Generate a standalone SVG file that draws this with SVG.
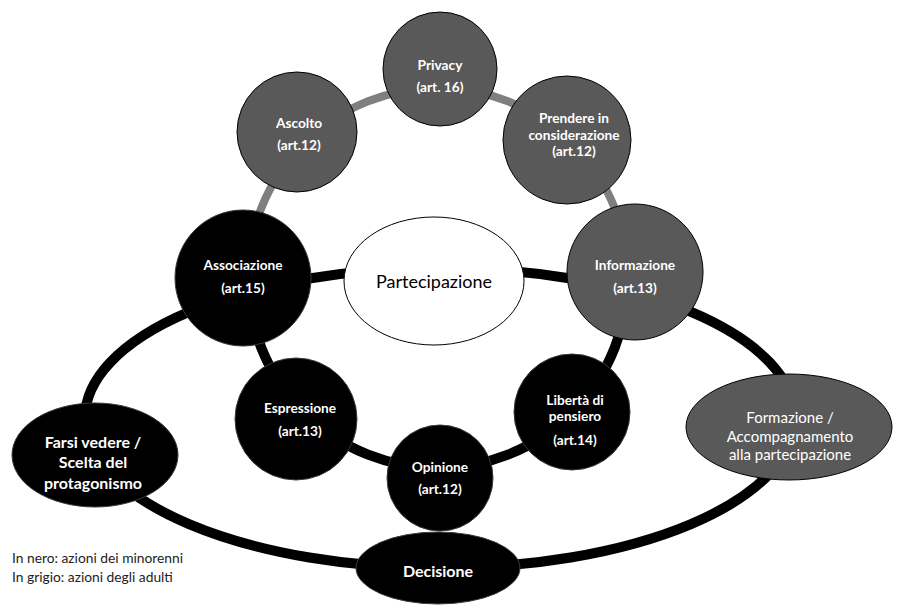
<svg xmlns="http://www.w3.org/2000/svg" width="897" height="605" viewBox="0 0 897 605">
<style>
.g{fill:#595959;stroke:#000;stroke-width:1}
.b{fill:#000;stroke:#3a3a3a;stroke-width:1}
.t{font-family:Lato,"Open Sans","Liberation Sans",sans-serif;font-weight:bold;font-size:13.7px;fill:#fff;text-anchor:middle}
.big{font-size:16px}
.dec{font-size:16px}
.reg{font-family:Lato,"Open Sans","Liberation Sans",sans-serif;font-size:15px;fill:#fff;text-anchor:middle}
.leg{font-family:Lato,"Open Sans","Liberation Sans",sans-serif;font-size:13.8px;fill:#222}
</style>
<rect width="897" height="605" fill="#fff"/>
<g id="connectors" fill="none">
<ellipse cx="440" cy="418" rx="355" ry="150" stroke="#000" stroke-width="10"/>
<path d="M248,278 A190,190 0 0 1 628,278" stroke="#7f7f7f" stroke-width="8"/>
<path d="M628,278 A190,190 0 0 1 248,278" stroke="#000" stroke-width="10"/>
</g>
<g id="privacy"><circle class="g" cx="440" cy="69" r="57"/><text class="t" x="440" y="70">Privacy</text><text class="t" x="440" y="92">(art. 16)</text></g>
<g id="ascolto"><circle class="g" cx="297" cy="132" r="60"/><text class="t" x="299" y="128">Ascolto</text><text class="t" x="299" y="150">(art.12)</text></g>
<g id="prendere"><circle class="g" cx="567" cy="140" r="64"/><text class="t" x="574" y="123">Prendere in</text><text class="t" x="574" y="140">considerazione</text><text class="t" x="574" y="156">(art.12)</text></g>
<g id="informazione"><circle class="g" cx="635" cy="272" r="68"/><text class="t" x="635" y="270">Informazione</text><text class="t" x="635" y="293">(art.13)</text></g>
<g id="associazione"><circle class="b" cx="243" cy="278" r="68"/><text class="t" x="243" y="270">Associazione</text><text class="t" x="243" y="293">(art.15)</text></g>
<g id="partecipazione"><ellipse cx="434" cy="281" rx="90" ry="64" fill="#fff" stroke="#000" stroke-width="1"/><text x="434" y="288" font-family="Lato,'Open Sans','Liberation Sans',sans-serif" font-size="18" fill="#000" text-anchor="middle">Partecipazione</text></g>
<g id="espressione"><circle class="b" cx="296" cy="419" r="61"/><text class="t" x="300" y="413">Espressione</text><text class="t" x="300" y="436">(art.13)</text></g>
<g id="opinione"><circle class="b" cx="440" cy="478" r="53"/><text class="t" x="440" y="472">Opinione</text><text class="t" x="440" y="494">(art.12)</text></g>
<g id="liberta"><circle class="b" cx="572" cy="412" r="58"/><text class="t" x="575" y="405">Libertà di</text><text class="t" x="575" y="421">pensiero</text><text class="t" x="575" y="445">(art.14)</text></g>
<g id="farsi"><ellipse class="b" cx="95" cy="455" rx="83" ry="52"/><text class="t big" x="93" y="448">Farsi vedere /</text><text class="t big" x="93" y="468">Scelta del</text><text class="t big" x="93" y="489">protagonismo</text></g>
<g id="formazione"><ellipse class="g" cx="789" cy="427" rx="103" ry="53"/><text class="reg" x="790" y="423">Formazione /</text><text class="reg" x="790" y="442">Accompagnamento</text><text class="reg" x="790" y="460">alla partecipazione</text></g>
<g id="decisione"><ellipse class="b" cx="438" cy="568" rx="82" ry="36"/><text class="t dec" x="438" y="577">Decisione</text></g>
<g id="legenda"><text class="leg" x="12" y="563">In nero: azioni dei minorenni</text><text class="leg" x="12" y="582">In grigio: azioni degli adulti</text></g>
</svg>
